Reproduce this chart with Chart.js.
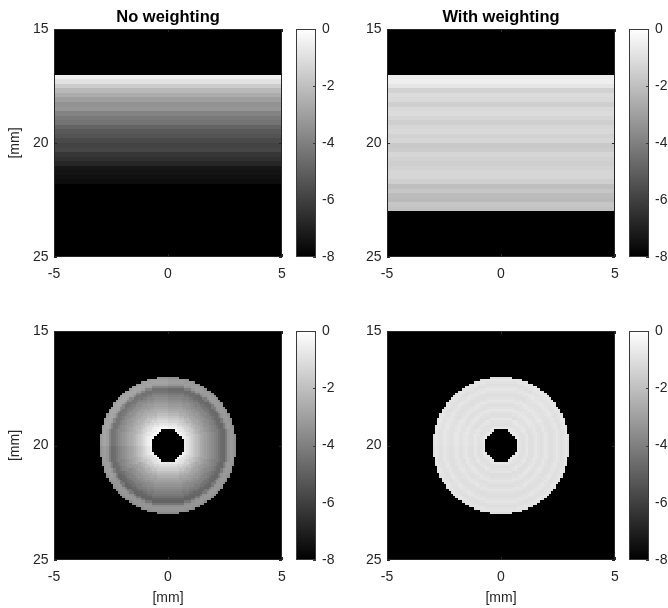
<!DOCTYPE html>
<html>
<head>
<meta charset="utf-8">
<script src="https://cdn.jsdelivr.net/npm/chart.js@4/dist/chart.umd.min.js"></script>
<style>
  html, body { margin: 0; padding: 0; background: #fff; }
  #page { position: relative; width: 668px; height: 608px; overflow: hidden; background: #fff; }
  #page canvas { position: absolute; }
</style>
</head>
<body>
<div id="page"></div>
<script>
// ---- axis ticks and labels ----
const xTicks = [-5, 0, 5];
const yTicks = [15, 20, 25];
const colorTicks = [0, -2, -4, -6, -8];
const panelTitles = ['No weighting', 'With weighting', '', ''];
const axisLabel = '[mm]';

// ---- layer images: level (dB) per 0.2 mm depth row, starting at 17.0 mm ----
const layerDepthStart = 17.0;
const layerDepthStep = 0.2;
const layerNoWeighting = [
  -0.5, -0.9, -1.6, -2.2, -2.6, -3.0, -3.4, -3.3, -3.9, -4.2, -4.4, -4.9,
  -5.2, -5.4, -5.7, -5.9, -5.8, -6.3, -6.5, -6.8, -7.3, -7.4, -7.5, -7.6
];
const layerWithWeighting = [
  -0.6, -0.5, -0.8, -1.4, -1.1, -1.2, -1.5, -1.2, -1.1, -1.3, -1.5, -1.3,
  -1.2, -1.4, -1.3, -1.7, -1.6, -1.3, -1.4, -1.5, -1.4, -1.3, -1.3, -1.5,
  -2.0, -1.8, -2.1, -2.2, -1.8, -1.9
];

// ---- ring images: level (dB) per 0.1 mm of radius, starting at 0.7 mm ----
const ringCenter = [0, 20];
const ringInner = 0.7;
const ringOuter = 3.0;
const ringStep = 0.1;
const ringNoWeighting = [
  -0.3, -0.4, -0.7, -1.0, -1.3, -1.6, -1.9, -2.2, -2.5, -2.7, -2.9, -3.1,
  -3.3, -3.5, -3.7, -3.9, -4.2, -4.5, -4.6, -4.0, -3.2, -3.0, -3.1, -3.4
];
const ringWithWeighting = [
  -0.8, -0.7, -0.9, -1.0, -0.9, -0.8, -1.0, -1.0, -0.9, -0.8, -0.9, -1.0,
  -0.9, -0.8, -0.9, -1.0, -1.0, -0.9, -0.8, -0.9, -1.0, -0.9, -0.8, -1.0
];
// level offset (dB) per 30° sector, clockwise from the +x direction on screen
const sectorNoWeighting = [-0.15, -0.2, -0.3, -0.3, -0.25, -0.05, 0.2, 0.25, 0.15, -0.05, -0.1, -0.15];
const sectorWithWeighting = [0.0, 0.0, -0.05, -0.05, 0.0, 0.0, 0.05, 0.0, 0.0, 0.0, 0.05, 0.0];

// ---- image grid ----
const cellSize = 0.1;
const xRange = [-5, 5];
const yRange = [15, 25];
const levelRange = [-8, 0];

const FONT = '"Liberation Sans", Arial, Helvetica, sans-serif';
const TEXT = '#262626';

function buildCells(levelAt) {
  const cells = [];
  const nx = Math.round((xRange[1] - xRange[0]) / cellSize);
  const ny = Math.round((yRange[1] - yRange[0]) / cellSize);
  for (let i = 0; i < nx; i++) {
    for (let j = 0; j < ny; j++) {
      const x = xRange[0] + (i + 0.5) * cellSize;
      const y = yRange[0] + (j + 0.5) * cellSize;
      const v = levelAt(x, y);
      if (v !== null) cells.push({ x, y, v });
    }
  }
  return cells;
}

function layerLevel(profile) {
  return (x, y) => {
    const k = Math.floor((y - layerDepthStart) / layerDepthStep + 1e-9);
    if (k < 0 || k >= profile.length) return null;
    return profile[k];
  };
}

function ringLevel(profile, sectors) {
  return (x, y) => {
    const dx = x - ringCenter[0], dy = y - ringCenter[1];
    const r = Math.hypot(dx, dy);
    if (r < ringInner || r > ringOuter) return null;
    const k = Math.min(profile.length - 1, Math.round((r - ringInner) / ringStep));
    const a = (Math.atan2(dy, dx) + 2 * Math.PI) % (2 * Math.PI);
    const s = Math.min(sectors.length - 1, Math.floor(a / (2 * Math.PI / sectors.length)));
    return profile[k] + sectors[s];
  };
}

function grayFor(v) {
  const t = Math.max(0, Math.min(1, (v - levelRange[0]) / (levelRange[1] - levelRange[0])));
  const g = Math.round(255 * t);
  return `rgb(${g},${g},${g})`;
}

// draws the image cells through the chart's scales, plus the axes box and inward ticks
const cellLayer = {
  id: 'cellLayer',
  beforeDatasetsDraw(chart) {
    const { ctx, chartArea: a, scales: { x, y } } = chart;
    ctx.save();
    ctx.beginPath();
    ctx.rect(a.left, a.top, a.width, a.height);
    ctx.clip();
    ctx.fillStyle = '#000';
    ctx.fillRect(a.left, a.top, a.width, a.height);
    const h = cellSize / 2;
    for (const c of chart.data.datasets[0].data) {
      const x0 = Math.round(x.getPixelForValue(c.x - h));
      const x1 = Math.round(x.getPixelForValue(c.x + h));
      const y0 = Math.round(y.getPixelForValue(c.y - h));
      const y1 = Math.round(y.getPixelForValue(c.y + h));
      ctx.fillStyle = grayFor(c.v);
      ctx.fillRect(Math.min(x0, x1), Math.min(y0, y1), Math.abs(x1 - x0), Math.abs(y1 - y0));
    }
    ctx.restore();
  },
  afterDraw(chart) {
    const { ctx, chartArea: a, scales: { x, y } } = chart;
    ctx.save();
    ctx.strokeStyle = TEXT;
    ctx.lineWidth = 1;
    ctx.strokeRect(a.left + 0.5, a.top + 0.5, a.width - 1, a.height - 1);
    ctx.beginPath();
    for (const v of xTicks) {
      const px = Math.round(x.getPixelForValue(v)) + 0.5;
      ctx.moveTo(px, a.bottom); ctx.lineTo(px, a.bottom - 3);
      ctx.moveTo(px, a.top); ctx.lineTo(px, a.top + 3);
    }
    for (const v of yTicks) {
      const py = Math.round(y.getPixelForValue(v)) + 0.5;
      ctx.moveTo(a.left, py); ctx.lineTo(a.left + 3, py);
      ctx.moveTo(a.right, py); ctx.lineTo(a.right - 3, py);
    }
    ctx.stroke();
    ctx.restore();
  }
};

// colorbar frame and tick marks
const colorbarFrame = {
  id: 'colorbarFrame',
  afterDraw(chart) {
    const { ctx, chartArea: a, scales: { y } } = chart;
    ctx.save();
    ctx.strokeStyle = '#3a3a3a';
    ctx.lineWidth = 1;
    ctx.strokeRect(a.left + 0.5, a.top + 0.5, a.width - 1, a.height - 1);
    ctx.beginPath();
    for (const v of colorTicks) {
      const py = Math.round(y.getPixelForValue(v)) + 0.5;
      ctx.moveTo(a.right, py); ctx.lineTo(a.right - 3, py);
    }
    ctx.stroke();
    ctx.restore();
  }
};

const page = document.getElementById('page');
function addCanvas(left, top, w, h) {
  const c = document.createElement('canvas');
  c.width = w; c.height = h;
  c.style.left = left + 'px'; c.style.top = top + 'px';
  c.style.width = w + 'px'; c.style.height = h + 'px';
  page.appendChild(c);
  return c;
}

const hiddenGrid = { display: false, drawTicks: false, tickLength: 0 };

// fixed axis sizes; label overhang is already covered by the canvas margins
function fixSize(prop, size) {
  return s => {
    s[prop] = size;
    s.paddingLeft = s.paddingRight = s.paddingTop = s.paddingBottom = 0;
  };
}

function imagePanel(opts) {
  const { left, top, w, h, title, cells, yWidth, xHeight, padRight, padTop, showYLabel, showXLabel } = opts;
  const canvas = addCanvas(left, top, w, h);
  return new Chart(canvas, {
    type: 'scatter',
    data: { datasets: [{ data: cells, pointRadius: 0, pointHoverRadius: 0, showLine: false }] },
    options: {
      responsive: false, animation: false, events: [],
      layout: { padding: { left: 0, right: padRight, top: padTop, bottom: 0 } },
      plugins: {
        legend: { display: false },
        tooltip: { enabled: false },
        title: {
          display: !!title, text: title, fullSize: false, color: '#000',
          font: { family: FONT, size: 16.5, weight: 'bold', lineHeight: 1.2 },
          padding: { top: 7.1, bottom: 2.1 }
        }
      },
      scales: {
        x: {
          type: 'linear', min: xRange[0], max: xRange[1],
          afterBuildTicks: s => { s.ticks = xTicks.map(v => ({ value: v })); },
          grid: hiddenGrid, border: { display: false },
          ticks: { color: TEXT, font: { family: FONT, size: 14 }, padding: 8.6, maxRotation: 0 },
          title: { display: showXLabel, text: axisLabel, color: TEXT, font: { family: FONT, size: 14, lineHeight: 1.2 }, padding: { top: 0, bottom: 1.6 } },
          afterFit: fixSize('height', xHeight)
        },
        y: {
          type: 'linear', min: yRange[0], max: yRange[1], reverse: true,
          afterBuildTicks: s => { s.ticks = yTicks.map(v => ({ value: v })); },
          grid: hiddenGrid, border: { display: false },
          ticks: { color: TEXT, font: { family: FONT, size: 14 }, padding: 5.5 },
          title: { display: showYLabel, text: axisLabel, color: TEXT, font: { family: FONT, size: 14, lineHeight: 1.2 }, padding: { top: 6.6, bottom: 0 } },
          afterFit: fixSize('width', yWidth)
        }
      }
    },
    plugins: [cellLayer]
  });
}

function colorbar(opts) {
  const { left, top, w, h, padTop, padBottom, yWidth } = opts;
  const canvas = addCanvas(left, top, w, h);
  return new Chart(canvas, {
    type: 'bar',
    data: {
      labels: ['level'],
      datasets: [{
        data: [[levelRange[0], levelRange[1]]],
        borderWidth: 0, barPercentage: 1, categoryPercentage: 1,
        backgroundColor: ctx => {
          const chart = ctx.chart;
          if (!chart.chartArea) return '#808080';
          const y = chart.scales.y;
          const g = chart.ctx.createLinearGradient(0, y.getPixelForValue(levelRange[0]), 0, y.getPixelForValue(levelRange[1]));
          g.addColorStop(0, grayFor(levelRange[0]));
          g.addColorStop(1, grayFor(levelRange[1]));
          return g;
        }
      }]
    },
    options: {
      responsive: false, animation: false, events: [],
      layout: { padding: { left: 6, right: 0, top: padTop, bottom: padBottom } },
      plugins: { legend: { display: false }, tooltip: { enabled: false } },
      scales: {
        x: { display: false },
        y: {
          position: 'right', min: levelRange[0], max: levelRange[1],
          afterBuildTicks: s => { s.ticks = colorTicks.map(v => ({ value: v })); },
          grid: hiddenGrid, border: { display: false },
          ticks: { color: TEXT, font: { family: FONT, size: 14 }, padding: 6 },
          afterFit: fixSize('width', yWidth)
        }
      }
    },
    plugins: [colorbarFrame]
  });
}

const cellsTL = buildCells(layerLevel(layerNoWeighting));
const cellsTR = buildCells(layerLevel(layerWithWeighting));
const cellsBL = buildCells(ringLevel(ringNoWeighting, sectorNoWeighting));
const cellsBR = buildCells(ringLevel(ringWithWeighting, sectorWithWeighting));

imagePanel({ left: 0, top: 0, w: 292, h: 300, title: panelTitles[0], cells: cellsTL, yWidth: 54, xHeight: 43, padRight: 10, padTop: 0, showYLabel: true, showXLabel: false });
imagePanel({ left: 334, top: 0, w: 292, h: 300, title: panelTitles[1], cells: cellsTR, yWidth: 53, xHeight: 43, padRight: 11, padTop: 0, showYLabel: false, showXLabel: false });
imagePanel({ left: 0, top: 302, w: 292, h: 306, title: panelTitles[2], cells: cellsBL, yWidth: 54, xHeight: 48, padRight: 10, padTop: 29, showYLabel: true, showXLabel: true });
imagePanel({ left: 334, top: 302, w: 292, h: 306, title: panelTitles[3], cells: cellsBR, yWidth: 53, xHeight: 48, padRight: 11, padTop: 29, showYLabel: false, showXLabel: true });

colorbar({ left: 290, top: 0, w: 56, h: 300, padTop: 29, padBottom: 43, yWidth: 30 });
colorbar({ left: 623, top: 0, w: 45, h: 300, padTop: 29, padBottom: 43, yWidth: 19 });
colorbar({ left: 290, top: 302, w: 56, h: 306, padTop: 29, padBottom: 48, yWidth: 30 });
colorbar({ left: 623, top: 302, w: 45, h: 306, padTop: 29, padBottom: 48, yWidth: 19 });
</script>
</body>
</html>
